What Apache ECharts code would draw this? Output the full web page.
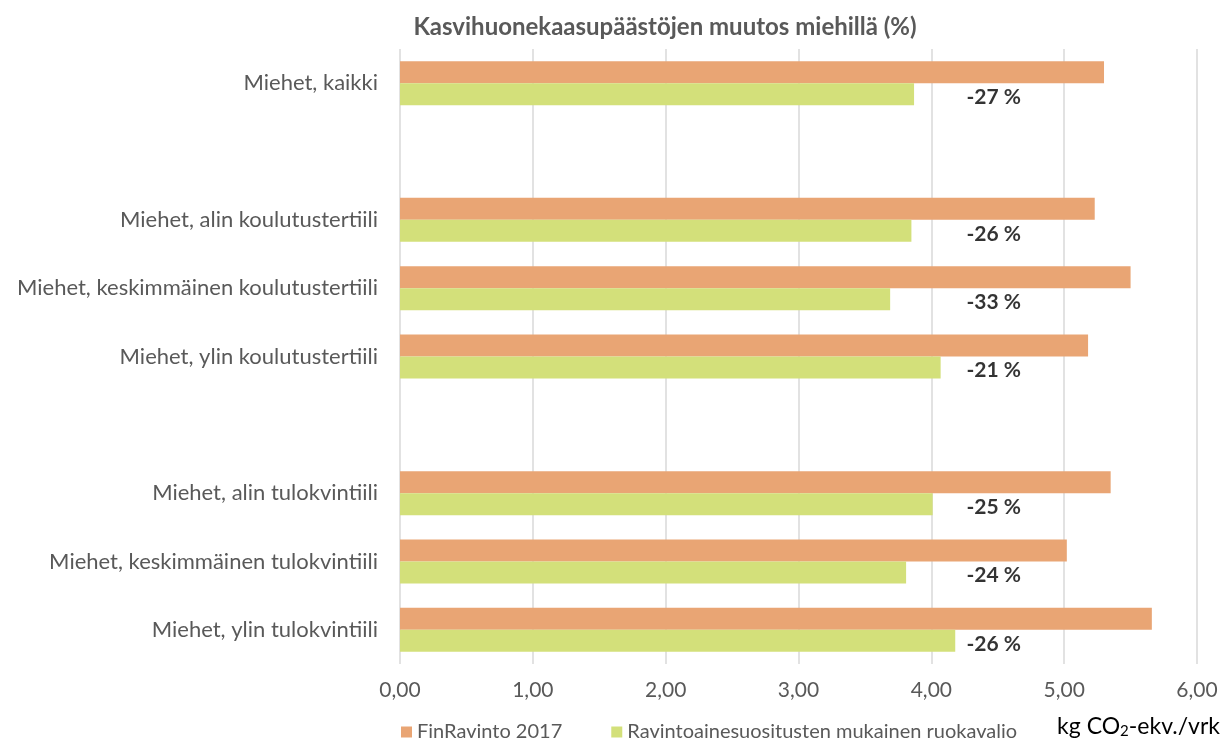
<!DOCTYPE html>
<html>
<head>
<meta charset="utf-8">
<script src="https://cdn.jsdelivr.net/npm/echarts@6/dist/echarts.min.js"></script>
<style>
  html, body { margin: 0; padding: 0; background: #fff; }
  #chart { width: 1222px; height: 744px; }
</style>
</head>
<body>
<div id="chart"></div>
<script>
  // categories top to bottom, empty strings are the gaps between groups
  var categories = [
    'Miehet, kaikki',
    '',
    'Miehet, alin koulutustertiili',
    'Miehet, keskimmäinen koulutustertiili',
    'Miehet, ylin koulutustertiili',
    ' ',
    'Miehet, alin tulokvintiili',
    'Miehet, keskimmäinen tulokvintiili',
    'Miehet, ylin tulokvintiili'
  ];
  var finravinto = [5.30, null, 5.23, 5.50, 5.18, null, 5.35, 5.02, 5.66];
  var suositus = [3.87, null, 3.85, 3.69, 4.07, null, 4.01, 3.81, 4.18];
  var changeLabels = ['-27 %', '', '-26 %', '-33 %', '-21 %', '', '-25 %', '-24 %', '-26 %'];
  var xTicks = [0, 1, 2, 3, 4, 5, 6];

  var labelX = 4.47; // where the change labels sit on the value axis
  var font = 'Lato, "Open Sans", sans-serif';

  var labelData = [];
  for (var i = 0; i < categories.length; i++) {
    if (changeLabels[i]) labelData.push([labelX, i, changeLabels[i]]);
  }

  var chart = echarts.init(document.getElementById('chart'));
  var option = {
    animation: false,
    textStyle: { fontFamily: font },
    title: {
      text: 'Kasvihuonekaasupäästöjen muutos miehillä (%)',
      left: 660,
      textAlign: 'center',
      top: 10,
      textStyle: { fontSize: 24, fontWeight: 'bold', color: '#595959', fontFamily: font }
    },
    legend: {
      left: 396,
      bottom: -3,
      itemWidth: 11,
      itemHeight: 11,
      itemGap: 49,
      icon: 'rect',
      data: ['FinRavinto 2017', 'Ravintoainesuositusten mukainen ruokavalio'],
      textStyle: { fontSize: 20, color: '#595959', fontFamily: font }
    },
    graphic: [{
      type: 'text',
      right: 2,
      top: 715,
      style: {
        text: '{a|kg CO}{s|2}{a|-ekv./vrk}',
        rich: {
          a: { fontSize: 23, color: '#595959', fontFamily: font },
          s: { fontSize: 15, color: '#595959', fontFamily: font, verticalAlign: 'bottom', padding: [10, 0, 0, 0] }
        }
      }
    }],
    grid: { left: 400, right: 25, top: 49, bottom: 80, containLabel: false },
    xAxis: {
      type: 'value',
      min: xTicks[0],
      max: xTicks[xTicks.length - 1],
      interval: 1,
      axisLine: { show: false },
      axisTick: { show: false },
      splitLine: { show: true, lineStyle: { color: '#d9d9d9', width: 1.5 } },
      axisLabel: {
        margin: 16,
        fontSize: 21,
        color: '#595959',
        formatter: function (v) { return v.toFixed(2).replace('.', ','); }
      }
    },
    yAxis: {
      type: 'category',
      inverse: true,
      data: categories,
      axisLine: { show: false },
      axisTick: { show: false },
      axisLabel: { margin: 22, fontSize: 22, color: '#595959' }
    },
    series: [
      {
        name: 'FinRavinto 2017',
        type: 'bar',
        data: finravinto,
        barWidth: 22,
        barGap: '0%',
        itemStyle: { color: '#E9A574' }
      },
      {
        name: 'Ravintoainesuositusten mukainen ruokavalio',
        type: 'bar',
        data: suositus,
        barWidth: 22,
        itemStyle: { color: '#D3E07A' }
      },
      {
        type: 'scatter',
        data: labelData,
        symbolSize: 0,
        silent: true,
        label: {
          show: true,
          position: 'inside',
          offset: [0, 14],
          formatter: function (p) { return p.data[2]; },
          fontSize: 21,
          fontWeight: 'bold',
          color: '#000'
        }
      }
    ]
  };
  chart.setOption(option);
</script>
</body>
</html>
